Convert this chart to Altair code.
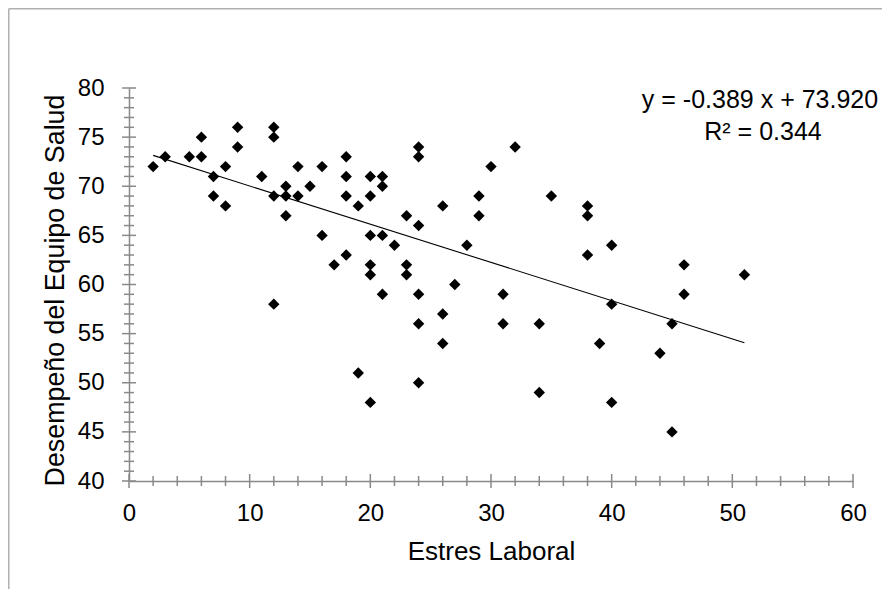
import altair as alt
import pandas as pd

# Data
estres = [2, 3, 5, 6, 6, 7, 7, 8, 8, 9, 9, 11, 12, 12, 12, 12, 13, 13, 13, 14, 14, 15, 16, 16, 17,
          18, 18, 18, 18, 19, 19, 20, 20, 20, 20, 20, 20, 21, 21, 21, 21, 22, 23, 23, 23, 24, 24,
          24, 24, 24, 24, 26, 26, 26, 27, 28, 29, 29, 30, 31, 31, 32, 34, 34, 35, 38, 38, 38, 39,
          40, 40, 40, 44, 45, 45, 46, 46, 51]
desempeno = [72, 73, 73, 73, 75, 71, 69, 72, 68, 76, 74, 71, 76, 75, 69, 58, 70, 69, 67, 72, 69, 70, 72, 65, 62,
             73, 71, 69, 63, 68, 51, 71, 69, 65, 62, 61, 48, 71, 70, 65, 59, 64, 67, 62, 61, 74, 73,
             66, 59, 56, 50, 68, 57, 54, 60, 64, 69, 67, 72, 59, 56, 74, 56, 49, 69, 68, 67, 63, 54,
             64, 58, 48, 53, 56, 45, 62, 59, 61]

slope = -0.389
intercept = 73.920
eq_line1 = "y = -0.389 x + 73.920"
eq_line2 = "R² = 0.344"

x_labels = [0, 10, 20, 30, 40, 50, 60]
y_labels = [40, 45, 50, 55, 60, 65, 70, 75, 80]
x_ticks = list(range(0, 61, 2))
y_ticks = list(range(40, 81, 1))

X_TITLE = "Estres Laboral"
Y_TITLE = "Desempeño del Equipo de Salud"

FONT = "Liberation Sans"
AX = "#898989"

W, H = 724, 393
PL, PT, PR, PB = 121, 80, 29, 108

pts = pd.DataFrame({"x": estres, "y": desempeno})
xs = [min(estres), max(estres)]
trend = pd.DataFrame({"x": xs, "y": [slope * v + intercept for v in xs]})

xscale = alt.Scale(domain=[0, 60], nice=False, zero=False)
yscale = alt.Scale(domain=[40, 80], nice=False, zero=False)

x_axis = alt.Axis(values=x_labels, ticks=False, grid=False, domainColor=AX,
                  domainWidth=1.5, labelFont=FONT, labelFontSize=24, labelColor="black",
                  labelPadding=20, labelFlush=False, labelOverlap=False,
                  titleFont=FONT, titleFontSize=26,
                  titleFontWeight="normal", titleColor="black",
                  titleY=78.5, titleBaseline="alphabetic")
y_axis = alt.Axis(values=y_labels, ticks=False, grid=False, domainColor=AX,
                  domainWidth=1.5, labelFont=FONT, labelFontSize=24, labelColor="black",
                  labelPadding=25, labelFlush=False, labelOverlap=False,
                  titleFont=FONT, titleFontSize=26.8,
                  titleFontWeight="normal", titleColor="black",
                  titleX=-66, titleY=202, titleAngle=270,
                  titleAlign="center", titleBaseline="alphabetic")


def X(field):
    return alt.X(field, scale=xscale, title=X_TITLE, axis=x_axis)


def Y(field):
    return alt.Y(field, scale=yscale, title=Y_TITLE, axis=y_axis)


points = alt.Chart(pts).mark_point(shape="diamond", filled=True, color="black",
                                   size=130, opacity=1).encode(x=X("x:Q"), y=Y("y:Q"))

line = alt.Chart(trend).mark_line(color="black", strokeWidth=1.1).encode(
    x=X("x:Q"), y=Y("y:Q"))

ydf_major = pd.DataFrame({"v": [v for v in y_ticks if v % 5 == 0]})
ydf_minor = pd.DataFrame({"v": [v for v in y_ticks if v % 5 != 0]})
xdf_major = pd.DataFrame({"v": [v for v in x_ticks if v % 10 == 0]})
xdf_minor = pd.DataFrame({"v": [v for v in x_ticks if v % 10 != 0]})

ytm = alt.Chart(ydf_major).mark_rule(color=AX, strokeWidth=1.5).encode(
    y=Y("v:Q"), x=alt.value(-7), x2=alt.value(7))
ytn = alt.Chart(ydf_minor).mark_rule(color=AX, strokeWidth=1.5).encode(
    y=Y("v:Q"), x=alt.value(-5), x2=alt.value(5))
xtm = alt.Chart(xdf_major).mark_rule(color=AX, strokeWidth=1.5).encode(
    x=X("v:Q"), y=alt.value(H - 7), y2=alt.value(H + 7))
xtn = alt.Chart(xdf_minor).mark_rule(color=AX, strokeWidth=1.5).encode(
    x=X("v:Q"), y=alt.value(H - 5), y2=alt.value(H + 5))

one = pd.DataFrame({"a": [0]})
eq1 = alt.Chart(one).mark_text(font=FONT, fontSize=25, color="black", align="center",
                               baseline="alphabetic", text=eq_line1).encode(
    x=alt.value(631), y=alt.value(20))
eq2 = alt.Chart(one).mark_text(font=FONT, fontSize=25, color="black", align="center",
                               baseline="alphabetic", text=eq_line2).encode(
    x=alt.value(634), y=alt.value(52))

border_top = alt.Chart(one).mark_rule(color="#b0b0b0", strokeWidth=1.5).encode(
    x=alt.value(-PL + 0.75), x2=alt.value(W + PR), y=alt.value(-PT + 0.75))
border_left = alt.Chart(one).mark_rule(color="#b0b0b0", strokeWidth=1.5).encode(
    x=alt.value(-PL + 0.75), y=alt.value(-PT + 0.75), y2=alt.value(H + PB))

chart = alt.layer(border_top, border_left, ytm, ytn, xtm, xtn, line, points, eq1, eq2).properties(
    width=W, height=H,
    padding={"left": PL, "top": PT, "right": PR, "bottom": PB},
    autosize=alt.AutoSizeParams(type="none"),
    background="white",
).configure_view(stroke=None)

chart.save("out.html", embed_options={"renderer": "svg", "actions": False})
